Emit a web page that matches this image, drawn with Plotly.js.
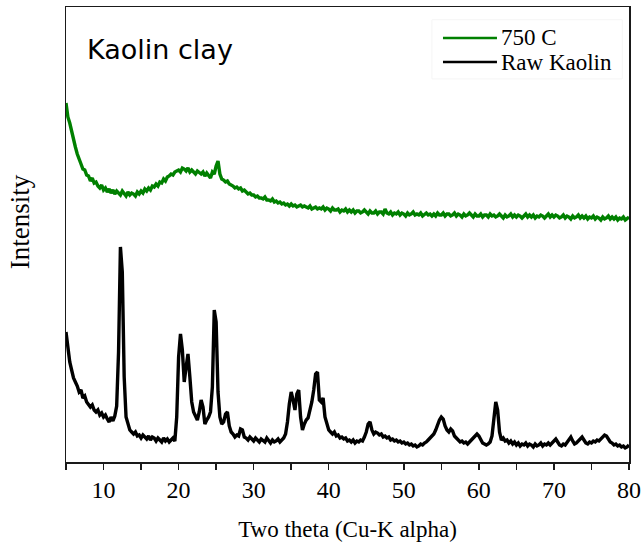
<!DOCTYPE html>
<html>
<head>
<meta charset="utf-8">
<script src="https://cdn.plot.ly/plotly-3.0.1.min.js"></script>
<style>
  html, body { margin: 0; padding: 0; background: #ffffff; }
  #chart { width: 644px; height: 548px; }
</style>
</head>
<body>
<div id="chart"></div>
<script>
// XRD scans of kaolin clay, 2θ from 5° to 80° in 0.25° steps (intensity, a.u.)
const scanStart = 5;
const scanStep = 0.25;

const seriesNames = ['750 C', 'Raw Kaolin'];

// Calcined at 750 °C (metakaolin): amorphous hump around 20–25°
const calcined750 = [
  359, 345, 339, 330,  320, 315, 308, 302,  298, 293, 292, 287,  286, 281, 284, 279,
  280, 276, 274, 277,  272, 274, 270, 273,  269, 272, 268, 271,  269, 267, 271, 268,
  266, 270, 267, 269,  268, 266, 270, 268,  271, 269, 273, 271,  274, 272, 276, 275,
  278, 276, 280, 279,  283, 281, 285, 286,  288, 287, 290, 291,  292, 290, 294, 293,
  291, 294, 290, 292,  290, 288, 291, 289,  288, 290, 286, 289,  287, 284, 290, 288,
  296, 301, 288, 283,  282, 280, 281, 278,  277, 276, 274, 275,  273, 274, 271, 272,
  270, 268, 269, 267,  267, 265, 266, 264,  264, 263, 265, 262,  262, 261, 263, 260,
  261, 259, 260, 258,  259, 257, 258, 256,  258, 256, 257, 255,  256, 257, 255, 256,
  255, 254, 256, 253,  254, 255, 253, 254,  253, 255, 252, 254,  253, 251, 254, 252,
  252, 253, 250, 252,  251, 253, 250, 252,  250, 252, 249, 251,  251, 249, 250, 252,
  250, 248, 251, 249,  249, 251, 248, 250,  250, 248, 253, 249,  248, 250, 247, 249,
  248, 250, 247, 249,  248, 246, 249, 247,  248, 250, 247, 248,  247, 249, 246, 248,
  249, 247, 248, 246,  248, 246, 249, 247,  247, 249, 246, 248,  248, 246, 247, 249,
  246, 248, 247, 245,  248, 246, 247, 249,  247, 245, 248, 246,  246, 248, 245, 247,
  247, 245, 248, 246,  247, 245, 246, 248,  246, 244, 247, 245,  246, 248, 245, 247,
  245, 247, 246, 244,  246, 248, 245, 247,  245, 247, 244, 246,  245, 247, 246, 244,
  246, 248, 245, 247,  245, 247, 246, 244,  245, 247, 244, 246,  245, 243, 246, 244,
  245, 247, 244, 246,  244, 246, 243, 245,  244, 246, 243, 245,  244, 242, 245, 243,
  244, 246, 243, 245,  243, 245, 242, 244,  243, 245, 242, 244,
  245
];

// Raw kaolin: kaolinite reflections at 12.3°, 20.3°, 21.2°, 24.9°, 35–39°, 55°, 62.4°
const rawKaolin = [
  130, 112, 100,  92,   84,  80,  76,  70,   72,  64,  66,  60,   58,  55,  57,  52,
   50,  52,  47,  49,   45,  47,  43,  40,   45,  41,  46,  56,  110, 215, 190,  85,
   45,  38,  32,  30,   28,  30,  26,  27,   24,  27,  25,  23,   26,  22,  25,  24,
   21,  24,  22,  20,   24,  21,  23,  20,   22,  24,  21,  45,  105, 128, 112,  80,
   95, 108,  85,  60,   50,  45,  42,  50,   62,  55,  38,  42,   45,  50,  75, 152,
  140,  70,  45,  38,   40,  48,  50,  36,   30,  28,  25,  27,   26,  33,  32,  25,
   24,  22,  25,  23,   21,  24,  22,  20,   23,  21,  20,  24,   21,  19,  22,  20,
   21,  23,  20,  22,   24,  28,  40,  58,   70,  62,  52,  68,   72,  45,  32,  38,
   42,  44,  52,  60,   72,  88,  90,  62,   60,  64,  45,  38,   32,  30,  28,  30,
   26,  27,  24,  25,   23,  24,  21,  22,   20,  22,  19,  21,   20,  22,  21,  25,
   30,  38,  40,  32,   28,  30,  29,  27,   28,  25,  26,  24,   25,  22,  23,  21,
   22,  20,  21,  19,   20,  18,  19,  17,   18,  16,  17,  15,   16,  18,  17,  19,
   20,  22,  24,  27,   28,  32,  38,  42,   45,  43,  36,  32,   30,  33,  31,  26,
   24,  22,  20,  21,   19,  20,  18,  20,   22,  24,  26,  28,   26,  22,  19,  18,
   17,  18,  20,  26,   45,  60,  52,  30,   22,  24,  21,  22,   19,  21,  18,  20,
   17,  19,  16,  18,   17,  19,  16,  18,   17,  15,  18,  16,   17,  19,  16,  18,
   17,  19,  17,  19,   20,  23,  20,  17,   16,  18,  17,  20,   23,  25,  21,  18,
   19,  21,  24,  25,   22,  19,  18,  20,   19,  21,  20,  22,   21,  23,  24,  27,
   26,  22,  20,  19,   17,  18,  16,  17,   15,  16,  14,  15,
   17
];

const xTickVals = [10, 20, 30, 40, 50, 60, 70, 80];
const xTickText = ['10', '20', '30', '40', '50', '60', '70', '80'];

const serif = 'Liberation Serif, Times New Roman, serif';
const seriesColors = ['#008000', '#000000'];

const traces = [
  {
    type: 'scatter', mode: 'lines', name: seriesNames[0],
    x0: scanStart, dx: scanStep, y: calcined750,
    line: { color: seriesColors[0], width: 3.4 },
    showlegend: false, hoverinfo: 'x+y+name'
  },
  {
    type: 'scatter', mode: 'lines', name: seriesNames[1],
    x0: scanStart, dx: scanStep, y: rawKaolin,
    line: { color: seriesColors[1], width: 3.4 },
    showlegend: false, hoverinfo: 'x+y+name'
  }
];

// Key box in the upper right corner, drawn in paper units
const keyLineX = [0.6696, 0.7655];
const keyRowY = [0.9319, 0.8791];

const shapes = [
  { type: 'rect', xref: 'paper', yref: 'paper', x0: 0.650, x1: 0.988, y0: 0.842, y1: 0.972,
    line: { color: '#f5f5f5', width: 1 }, fillcolor: '#ffffff', layer: 'below' }
].concat(seriesNames.map((n, i) => ({
  type: 'line', xref: 'paper', yref: 'paper',
  x0: keyLineX[0], x1: keyLineX[1], y0: keyRowY[i], y1: keyRowY[i],
  line: { color: seriesColors[i], width: 2.4 }
})));

const annotations = seriesNames.map((n, i) => ({
  xref: 'paper', yref: 'paper', x: keyLineX[1] + 0.004, y: keyRowY[i],
  xanchor: 'left', yanchor: 'middle', showarrow: false, text: n,
  font: { family: serif, size: 23, color: '#000000' }
})).concat([
  {
    xref: 'paper', yref: 'paper', x: 0.034, y: 0.9055,
    xanchor: 'left', yanchor: 'middle', showarrow: false, text: 'Kaolin clay',
    font: { family: 'DejaVu Sans, Verdana, sans-serif', size: 27, color: '#000000' }
  },
  {
    // vertical axis caption
    xref: 'paper', yref: 'paper', x: -0.0817, y: 0.527,
    xanchor: 'center', yanchor: 'middle', showarrow: false, textangle: -90,
    text: 'Intensity',
    font: { family: serif, size: 27, color: '#000000' }
  }
]);

const layout = {
  width: 644, height: 548,
  margin: { l: 66, r: 15, t: 7, b: 86 },
  paper_bgcolor: '#ffffff', plot_bgcolor: '#ffffff',
  showlegend: false,
  xaxis: {
    range: [5, 80], autorange: false,
    showgrid: false, zeroline: false,
    showline: true, mirror: true, linecolor: '#1a1a1a', linewidth: 1.5,
    ticks: 'outside', ticklen: 6, tickwidth: 1.5, tickcolor: '#1a1a1a',
    tickvals: xTickVals, ticktext: xTickText,
    minor: { tickvals: [5, 15, 25, 35, 45, 55, 65, 75], ticks: 'outside', ticklen: 6, tickwidth: 1.5, tickcolor: '#1a1a1a' },
    tickfont: { family: serif, size: 24, color: '#000000' },
    title: { text: 'Two theta (Cu-K alpha)', standoff: 18, font: { family: serif, size: 23, color: '#000000' } },
    automargin: false
  },
  yaxis: {
    range: [0, 455], autorange: false,
    showgrid: false, zeroline: false,
    showline: true, mirror: true, linecolor: '#1a1a1a', linewidth: 1.5,
    ticks: '', showticklabels: false,
    automargin: false
  },
  shapes: shapes,
  annotations: annotations
};

Plotly.newPlot('chart', traces, layout, { displayModeBar: false, staticPlot: true });
</script>
</body>
</html>
